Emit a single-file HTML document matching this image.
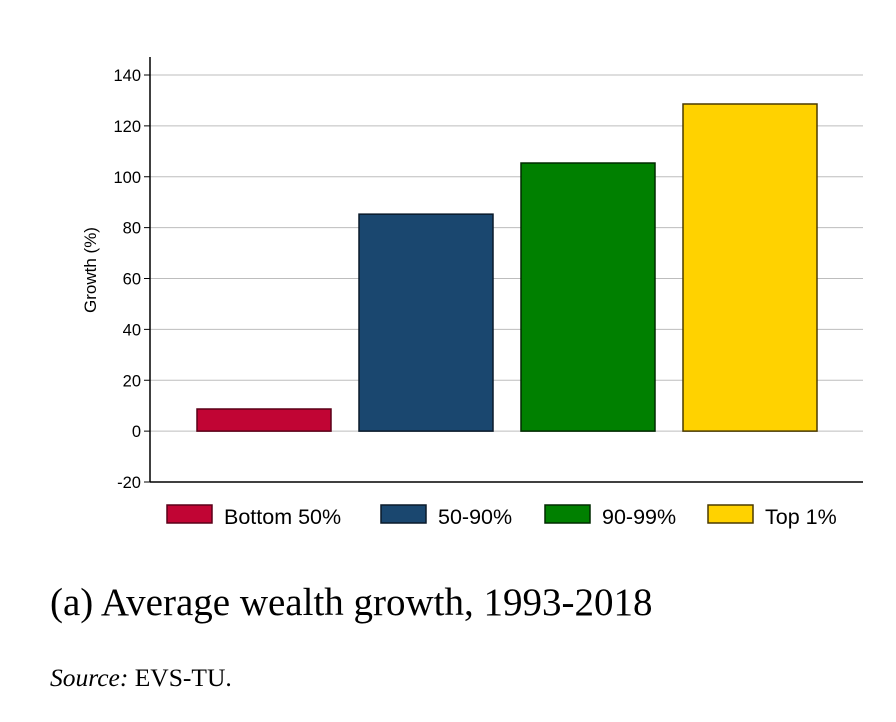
<!DOCTYPE html>
<html><head><meta charset="utf-8"><style>
html,body{margin:0;padding:0;background:#fff;}
body{width:896px;height:722px;overflow:hidden;position:relative;}
svg{position:absolute;left:0;top:0;}
</style></head><body>
<svg id="chart" width="896" height="722" xmlns="http://www.w3.org/2000/svg">
<g id="grid"></g>
<g id="bars"></g>
<g id="axes"></g>
<g id="legend"></g>
<text transform="translate(96,270) rotate(-90)" text-anchor="middle" font-family="Liberation Sans, sans-serif" font-size="17">Growth (%)</text>
<text x="50" y="615" font-family="Liberation Serif, serif" font-size="39">(a) Average wealth growth, 1993-2018</text>
<text x="50" y="686" font-family="Liberation Serif, serif" font-size="25.5"><tspan font-style="italic">Source:</tspan> EVS-TU.</text>
</svg>
<script>
const categories = ["Bottom 50%", "50-90%", "90-99%", "Top 1%"];
const values = [8.7, 85.3, 105.4, 128.6];
const colors = ["#c10534", "#1a476f", "#008000", "#ffd200"];
const strokes = ["#5a0018", "#0a1a2a", "#002a00", "#4a3a00"];
const yTicks = [-20, 0, 20, 40, 60, 80, 100, 120, 140];

const NS = "http://www.w3.org/2000/svg";
const plotL = 150, plotR = 863, plotT = 57, plotB = 482;
const yMin = -20, yMax = 140, yPixMin = 482, yPixMax = 75;
function y(v){ return yPixMin + (v - yMin) / (yMax - yMin) * (yPixMax - yPixMin); }
const barStart = 197, barStep = 162, barW = 134;
function x(i){ return barStart + i * barStep; }
function mk(tag, attrs, parent){ const e = document.createElementNS(NS, tag); for (const k in attrs) e.setAttribute(k, attrs[k]); parent.appendChild(e); return e; }

const grid = document.getElementById("grid"), axes = document.getElementById("axes"), bars = document.getElementById("bars"), legend = document.getElementById("legend");
yTicks.forEach(t => {
  if (t > yMin) {
    const g = mk("line", {x1: plotL, x2: plotR, y1: y(t), y2: y(t), stroke: "#bdbdbd", "stroke-width": 1}, grid);
    
    
  }
  const tk = mk("line", {x1: plotL - 6, x2: plotL, y1: y(t), y2: y(t), stroke: "#000", "stroke-width": 1}, axes);
  
  
  const lb = mk("text", {x: plotL - 9, y: y(t) + 6, "text-anchor": "end", "font-family": "Liberation Sans, sans-serif", "font-size": 16.5}, axes);
  lb.textContent = t;
  
  
});
const ya = mk("line", {x1: plotL, x2: plotL, y1: plotT, y2: plotB, stroke: "#000", "stroke-width": 1.5}, axes);


const xa = mk("line", {x1: plotL, x2: plotR, y1: plotB, y2: plotB, stroke: "#000", "stroke-width": 1.5}, axes);



values.forEach((v, i) => {
  const top = Math.min(y(v), y(0)), h = Math.abs(y(v) - y(0));
  const r = mk("rect", {x: x(i), y: top, width: barW, height: h, fill: colors[i], stroke: strokes[i], "stroke-width": 1.5}, bars);
  
  
});

const legX = [167, 381, 545, 708];
categories.forEach((c, i) => {
  const g = mk("g", {}, legend);
  
  
  mk("rect", {x: legX[i], y: 505, width: 45, height: 18, fill: colors[i], stroke: strokes[i], "stroke-width": 1.5}, g);
  const t = mk("text", {x: legX[i] + 57, y: 524, "font-family": "Liberation Sans, sans-serif", "font-size": 21.5}, g);
  t.textContent = c;
});
</script>
</body></html>
